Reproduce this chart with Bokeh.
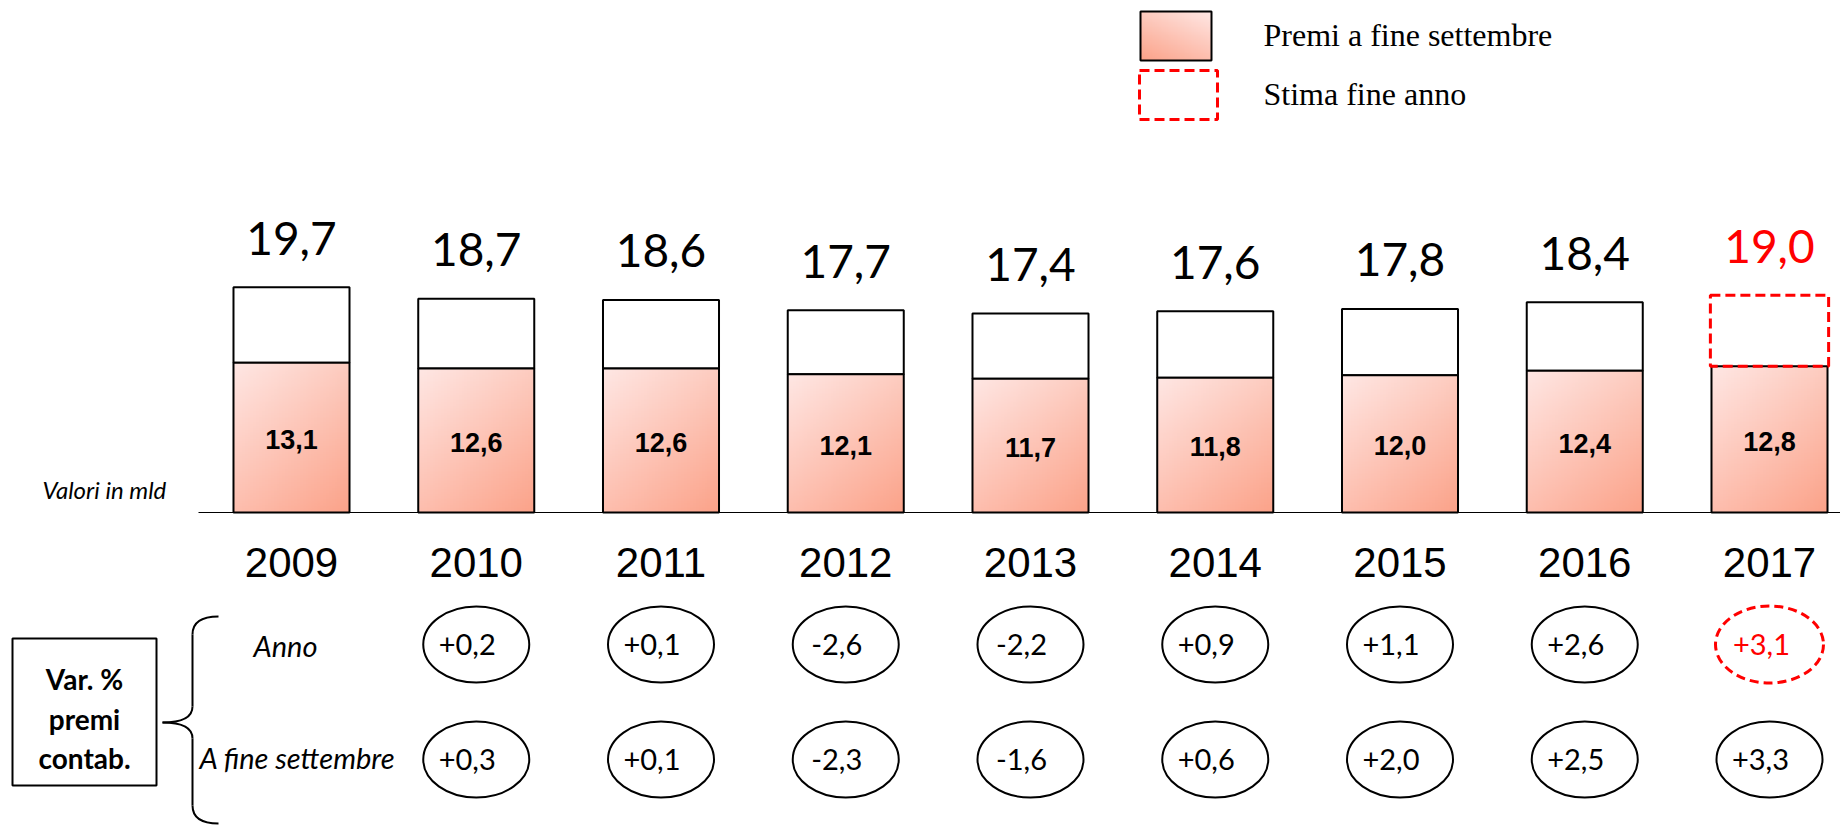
import numpy as np
from bokeh.plotting import figure
from bokeh.models import Range1d
from bokeh.core.properties import value
from bokeh.embed import file_html
from bokeh.resources import INLINE

# ---------------- data ----------------
years = ["2009", "2010", "2011", "2012", "2013", "2014", "2015", "2016", "2017"]
totale = [19.7, 18.7, 18.6, 17.7, 17.4, 17.6, 17.8, 18.4, 19.0]
settembre = [13.1, 12.6, 12.6, 12.1, 11.7, 11.8, 12.0, 12.4, 12.8]
var_years = ["2010", "2011", "2012", "2013", "2014", "2015", "2016", "2017"]
var_anno = ["+0,2", "+0,1", "-2,6", "-2,2", "+0,9", "+1,1", "+2,6", "+3,1"]
var_settembre = ["+0,3", "+0,1", "-2,3", "-1,6", "+0,6", "+2,0", "+2,5", "+3,3"]
legend_labels = ["Premi a fine settembre", "Stima fine anno"]
row_labels = ["Anno", "A fine settembre"]
box_lines = ["Var. %", "premi", "contab."]
unit_note = "Valori in mld"

# ---------------- layout ----------------
W, H = 1840, 826
PX_X = 184.75      # pixels per category step
X0 = 291.0         # pixel of first category centre
PX_Y = 11.43       # pixels per unit (mld)
Y0 = 512.0         # pixel (from top) of value 0

xr = Range1d(-X0 / PX_X, (W - X0) / PX_X)
yr = Range1d(-(H - Y0) / PX_Y, Y0 / PX_Y)


def dx(px):  # page pixel -> data x
    return (px - X0) / PX_X


def dy(py):  # page pixel -> data y
    return (Y0 - py) / PX_Y


def fmt(v):
    return f"{v:.1f}".replace(".", ",")


idx = np.arange(len(years))
pos = {y: i for i, y in enumerate(years)}
vidx = np.array([pos[y] for y in var_years])

p = figure(width=W, height=H, x_range=xr, y_range=yr, title=None,
           output_backend="svg", toolbar_location=None, min_border=0,
           x_axis_location=None, y_axis_location=None)
p.grid.visible = False
p.outline_line_color = None
p.background_fill_color = "white"
p.border_fill_color = "white"


def gradient(nw, nh, mirror=False):
    u = np.linspace(0, 1, nw)[None, :]
    if mirror:
        u = 1 - u
    v = np.linspace(0, 1, nh)[:, None]  # row 0 = bottom
    w = 1 - v
    r = 255 - 2.0 * u - 1.5 * w
    g = 231 - 27 * u - 41 * w
    b = 228 - 36 * u - 54 * w
    img = np.empty((nh, nw), dtype=np.uint32)
    view = img.view(dtype=np.uint8).reshape((nh, nw, 4))
    view[:, :, 0] = np.clip(r, 0, 255)
    view[:, :, 1] = np.clip(g, 0, 255)
    view[:, :, 2] = np.clip(b, 0, 255)
    view[:, :, 3] = 255
    return img


BW = 0.628
# upper white boxes (years with final values)
p.vbar(x=idx[:-1], bottom=settembre[:-1], top=totale[:-1], width=BW,
       fill_color="white", line_color="black", line_width=2)
# gradient fill of september bars
p.image_rgba(image=[gradient(40, 80) for _ in years], x=idx - BW / 2,
             y=[0] * len(years), dw=[BW] * len(years), dh=settembre)
p.vbar(x=idx, bottom=0, top=settembre, width=BW, fill_alpha=0,
       line_color="black", line_width=2)
# estimated year-end box
p.vbar(x=idx[-1:], bottom=settembre[-1:], top=totale[-1:], width=0.64,
       fill_alpha=0, line_color="#FF0000", line_width=3, line_dash="10 5")

# baseline
p.segment(x0=[dx(198)], y0=[0], x1=[xr.end], y1=[0], line_color="black", line_width=1)

# value labels
p.text(x=idx[:-1], y=np.array(totale[:-1]) + 4.3, text=[fmt(v) for v in totale[:-1]],
       text_align="center", text_baseline="middle", text_font=value("Lato"),
       text_font_size="46px", text_color="black")
p.text(x=idx[-1:], y=np.array(totale[-1:]) + 4.3, text=[fmt(v) for v in totale[-1:]],
       text_align="center", text_baseline="middle", text_font=value("Lato"),
       text_font_size="46px", text_color="#FF0000")
p.text(x=idx, y=np.array(settembre) / 2 - 0.15, text=[fmt(v) for v in settembre],
       text_align="center", text_baseline="middle", text_font=value("Liberation Sans"),
       text_font_size="27px", text_font_style="bold", text_color="black")

# year labels
p.text(x=idx, y=[dy(562)] * len(years), text=years, text_align="center",
       text_baseline="middle", text_font=value("Liberation Sans"),
       text_font_size="42px", text_color="black")

# unit note
p.text(x=[dx(42)], y=[dy(489)], text=[unit_note], text_align="left",
       text_baseline="middle", text_font=value("Lato"), text_font_size="24px",
       text_font_style="italic", text_color="black")

# ellipses with variations
r1, r2 = dy(644), dy(759)
p.ellipse(x=vidx[:-1], y=[r1] * (len(vidx) - 1), width=106, height=76,
          width_units="screen", height_units="screen", fill_color="white",
          line_color="black", line_width=2)
p.ellipse(x=vidx[-1:], y=[r1], width=108, height=77, width_units="screen",
          height_units="screen", fill_color="white", line_color="#FF0000",
          line_width=3, line_dash="9 5")
p.ellipse(x=vidx, y=[r2] * len(vidx), width=106, height=76,
          width_units="screen", height_units="screen", fill_color="white",
          line_color="black", line_width=2)
p.text(x=vidx[:-1], y=[r1] * (len(vidx) - 1), text=var_anno[:-1], x_offset=-9,
       text_align="center", text_baseline="middle", text_font=value("Lato"),
       text_font_size="29px", text_color="black")
p.text(x=vidx[-1:], y=[r1], text=var_anno[-1:], x_offset=-8,
       text_align="center", text_baseline="middle", text_font=value("Lato"),
       text_font_size="29px", text_color="#FF0000")
p.text(x=vidx, y=[r2] * len(vidx), text=var_settembre, x_offset=-9,
       text_align="center", text_baseline="middle", text_font=value("Lato"),
       text_font_size="29px", text_color="black")

# row labels
p.text(x=[dx(285), dx(297)], y=[dy(645), dy(757)], text=row_labels,
       text_align="center", text_baseline="middle", text_font=value("Lato"),
       text_font_size="29px", text_font_style="italic", text_color="black")

# left box
p.quad(left=[dx(12)], right=[dx(156)], top=[dy(638)], bottom=[dy(785)],
       fill_color="white", line_color="black", line_width=2)
p.text(x=[dx(84)] * 3, y=[dy(678), dy(718), dy(757)], text=box_lines,
       text_align="center", text_baseline="middle", text_font=value("Lato"),
       text_font_size="28px", text_font_style="bold", text_color="black")

# curly brace
bx = 192
p.quadratic(x0=[dx(218), dx(bx), dx(162), dx(bx)],
            y0=[dy(616), dy(706), dy(722), dy(805)],
            x1=[dx(bx), dx(162), dx(bx), dx(218)],
            y1=[dy(634), dy(722), dy(738), dy(823)],
            cx=[dx(bx), dx(bx), dx(bx), dx(bx)],
            cy=[dy(616), dy(722), dy(722), dy(823)],
            line_color="black", line_width=2)
p.segment(x0=[dx(bx), dx(bx)], y0=[dy(634), dy(738)],
          x1=[dx(bx), dx(bx)], y1=[dy(706), dy(805)],
          line_color="black", line_width=2)

# legend
p.image_rgba(image=[gradient(40, 30, mirror=True)], x=[dx(1140)], y=[dy(60)],
             dw=[dx(1211) - dx(1140)], dh=[dy(11) - dy(60)])
p.quad(left=[dx(1140)], right=[dx(1211)], top=[dy(11)], bottom=[dy(60)],
       fill_alpha=0, line_color="black", line_width=2)
p.quad(left=[dx(1139)], right=[dx(1217)], top=[dy(70)], bottom=[dy(119)],
       fill_alpha=0, line_color="#FF0000", line_width=3, line_dash="10 5")
p.text(x=[dx(1263)] * 2, y=[dy(34), dy(93)], text=legend_labels,
       text_align="left", text_baseline="middle", text_font=value("Liberation Serif"),
       text_font_size="32px", text_color="black")

open("out.html", "w").write(file_html(p, INLINE))
